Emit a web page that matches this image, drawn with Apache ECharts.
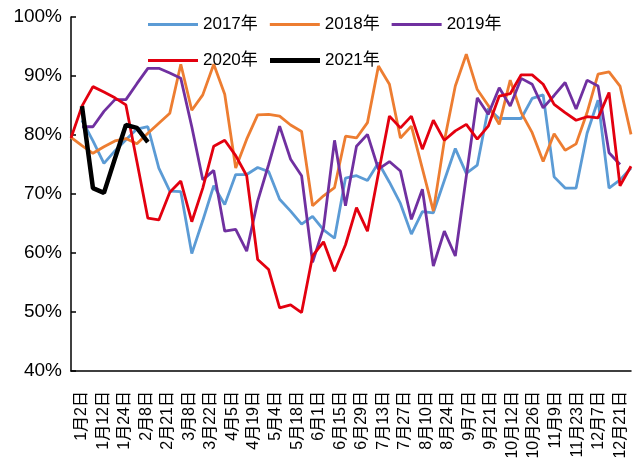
<!DOCTYPE html>
<html>
<head>
<meta charset="utf-8">
<script src="https://cdn.jsdelivr.net/npm/echarts@6/dist/echarts.min.js"></script>
<style>
  html, body { margin: 0; padding: 0; background: #fff; }
  #main { width: 634px; height: 462px; }
</style>
</head>
<body>
<div id="main"></div>
<script>
// weekly categories (data axis)
var weeks = [
    '1月2日', '1月6日', '1月12日', '1月17日', '1月24日', '1月31日', '2月8日', '2月14日',
    '2月21日', '2月28日', '3月8日', '3月15日', '3月22日', '3月29日', '4月5日', '4月12日',
    '4月19日', '4月26日', '5月4日', '5月11日', '5月18日', '5月25日', '6月1日', '6月8日',
    '6月15日', '6月22日', '6月29日', '7月6日', '7月13日', '7月20日', '7月27日', '8月3日',
    '8月10日', '8月17日', '8月24日', '8月31日', '9月7日', '9月14日', '9月21日', '9月28日',
    '10月12日', '10月19日', '10月26日', '11月2日', '11月9日', '11月16日', '11月23日', '11月30日',
    '12月7日', '12月14日', '12月21日', '12月28日'
];
// labels shown under the axis
var tickLabels = ['1月2日', '1月12日', '1月24日', '2月8日', '2月21日', '3月8日', '3月22日',
    '4月5日', '4月19日', '5月4日', '5月18日', '6月1日', '6月15日', '6月29日', '7月13日',
    '7月27日', '8月10日', '8月24日', '9月7日', '9月21日', '10月12日', '10月26日', '11月9日',
    '11月23日', '12月7日', '12月21日'];

var y2017 = [null, 82.5, 79.0, 75.2, 77.3, 79.2, 81.0, 81.4, 74.4, 70.5, 70.4, 59.9, 65.5,
    71.4, 68.2, 73.3, 73.3, 74.5, 73.8, 69.1, 67.1, 64.9, 66.2, 63.9, 62.5, 72.7, 73.1, 72.3,
    75.3, 72.0, 68.4, 63.2, 67.0, 66.8, 72.3, 77.7, 73.5, 74.9, 84.5, 82.8, 82.8, 82.8, 86.2,
    86.8, 72.9, 71.0, 71.0, 80.3, 85.9, 71.0, 72.4, 74.4];
var y2018 = [79.6, 78.2, 76.9, 78.0, 79.0, 79.4, 78.5, 80.3, 82.0, 83.7, 92.0, 84.2, 86.8,
    92.0, 86.9, 74.4, 79.3, 83.4, 83.5, 83.2, 81.7, 80.6, 68.0, 69.7, 71.1, 79.8, 79.5, 82.1,
    91.7, 88.6, 79.5, 81.5, 74.3, 67.1, 79.0, 88.3, 93.7, 87.7, 85.0, 81.8, 89.3, 83.8, 80.4,
    75.5, 80.2, 77.4, 78.5, 83.8, 90.3, 90.7, 88.3, 80.1];
var y2019 = [null, 81.4, 81.4, 84.0, 86.0, 86.0, 88.7, 91.3, 91.3, 90.5, 89.6, 81.4, 72.4,
    74.0, 63.7, 64.0, 60.3, 68.8, 75.0, 81.5, 75.9, 73.1, 58.4, 64.3, 79.1, 68.0, 78.1, 80.1,
    74.2, 75.5, 73.9, 65.7, 70.8, 57.8, 63.7, 59.5, 73.0, 86.3, 83.5, 88.0, 84.9, 89.6, 88.6,
    84.6, 86.7, 88.9, 84.4, 89.3, 88.3, 77.0, 75.0, null];
var y2020 = [79.5, 84.9, 88.2, 87.3, 86.3, 85.1, 75.5, 65.9, 65.6, 70.3, 72.2, 65.3, 71.0,
    78.1, 79.1, 76.5, 73.1, 58.9, 57.2, 50.7, 51.2, 49.9, 59.5, 61.9, 56.9, 61.4, 67.7, 63.7,
    73.5, 83.2, 81.2, 83.2, 77.6, 82.5, 79.1, 80.7, 81.8, 79.3, 81.5, 86.6, 87.0, 90.2, 90.2,
    88.6, 85.2, 83.8, 82.5, 83.1, 82.9, 87.2, 71.4, 74.7];
var y2021 = [null, 84.9, 71.0, 70.2, 76.0, 81.7, 81.2, 78.8];

var seriesNames = ['2017年', '2018年', '2019年', '2020年', '2021年'];
var seriesData = [y2017, y2018, y2019, y2020, y2021];
var colors = ['#5B9BD5', '#ED7D31', '#7030A0', '#E3000F', '#000000'];

var font = 'Arial, "Liberation Sans", "Noto Sans CJK SC", sans-serif';

var series = seriesNames.map(function (name, i) {
    return {
        name: name,
        type: 'line',
        data: seriesData[i],
        symbol: 'none',
        z: i == 4 ? 5 : 2 + i * 0.1,
        lineStyle: { color: colors[i], width: i == 4 ? 4.5 : 2.8 },
        itemStyle: { color: colors[i] }
    };
});

var legendBase = {
    icon: 'rect',
    padding: 0,
    itemWidth: 50,
    itemHeight: 3,
    itemGap: 12,
    textStyle: { fontFamily: font, fontSize: 17, color: '#000' }
};

var myChart = echarts.init(document.getElementById('main'));
var option = {
    animation: false,
    backgroundColor: '#fff',
    color: colors,
    grid: { left: 71, right: 3, top: 17, bottom: 91 },
    legend: [
        Object.assign({}, legendBase, { data: seriesNames.slice(0, 3), left: 148, top: 16 }),
        Object.assign({}, legendBase, { data: [seriesNames[3]], left: 148, top: 52 }),
        Object.assign({}, legendBase, { data: [seriesNames[4]], left: 270, top: 52, itemHeight: 5 })
    ],
    xAxis: [{
        type: 'category',
        boundaryGap: false,
        data: weeks,
        axisLine: { lineStyle: { color: '#000', width: 1.5 } },
        axisTick: { show: false },
        axisLabel: { show: false }
    }, {
        type: 'category',
        position: 'bottom',
        boundaryGap: true,
        data: tickLabels,
        axisLine: { show: false },
        axisTick: { show: false },
        axisLabel: {
            interval: 0,
            rotate: 90,
            margin: 20,
            fontFamily: font,
            fontSize: 16,
            color: '#000'
        }
    }],
    yAxis: {
        type: 'value',
        min: 40,
        max: 100,
        interval: 10,
        splitLine: { show: false },
        axisLine: { show: true, lineStyle: { color: '#000', width: 1.5 } },
        axisTick: { show: true, inside: true, length: 5, lineStyle: { color: '#000', width: 1.5 } },
        axisLabel: {
            formatter: '{value}%',
            margin: 9,
            fontFamily: font,
            fontSize: 19,
            color: '#000'
        }
    },
    series: series
};
myChart.setOption(option, true);
</script>
</body>
</html>
